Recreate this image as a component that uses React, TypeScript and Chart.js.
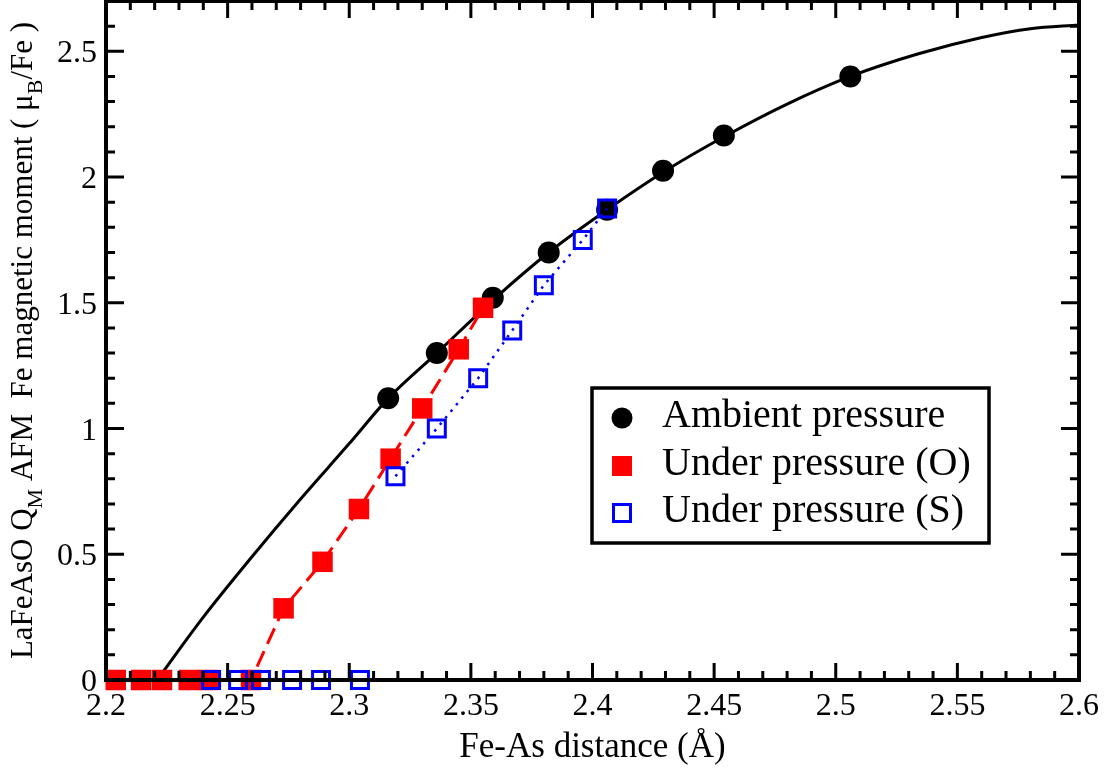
import React, { useEffect, useRef } from "react";
import { Chart, registerables } from "chart.js";

Chart.register(...registerables);

// Axis ranges and ticks
const X_MIN = 2.2;
const X_MAX = 2.6;
const Y_MIN = 0;
const Y_MAX = 2.7;
const X_MINOR_STEP = 0.01;
const Y_MINOR_STEP = 0.1;
const xTickValues = [2.2, 2.25, 2.3, 2.35, 2.4, 2.45, 2.5, 2.55, 2.6];
const xTickLabels = ["2.2", "2.25", "2.3", "2.35", "2.4", "2.45", "2.5", "2.55", "2.6"];
const yTickValues = [0, 0.5, 1, 1.5, 2, 2.5];
const yTickLabels = ["0", "0.5", "1", "1.5", "2", "2.5"];

// Ambient pressure: computed moments
const ambientX = [2.316, 2.336, 2.359, 2.382, 2.406, 2.429, 2.454, 2.506];
const ambientY = [1.12, 1.3, 1.52, 1.7, 1.87, 2.025, 2.165, 2.4];

// Ambient pressure: smooth fit curve
const fitX = [2.221, 2.24, 2.26, 2.28, 2.3, 2.316, 2.336, 2.359, 2.382, 2.406, 2.43, 2.455, 2.48, 2.506, 2.534, 2.56, 2.58, 2.6];
const fitY = [0, 0.25, 0.49, 0.72, 0.94, 1.12, 1.3, 1.51, 1.7, 1.87, 2.025, 2.165, 2.29, 2.4, 2.49, 2.555, 2.59, 2.605];

// Under pressure (O)
const orthoX = [2.204, 2.2144, 2.223, 2.234, 2.242, 2.2596, 2.273, 2.289, 2.304, 2.317, 2.33, 2.345, 2.355];
const orthoY = [0, 0, 0, 0, 0, 0, 0.285, 0.47, 0.68, 0.88, 1.08, 1.315, 1.48];

// Under pressure (S): non-magnetic points and magnetic branch
const sZeroX = [2.2432, 2.2543, 2.2637, 2.2765, 2.2884, 2.3044];
const sZeroY = [0, 0, 0, 0, 0, 0];
const sX = [2.319, 2.336, 2.353, 2.367, 2.38, 2.396, 2.406];
const sY = [0.81, 1.0, 1.2, 1.39, 1.57, 1.75, 1.875];

const legendLabels = ["Ambient pressure", "Under pressure (O)", "Under pressure (S)"];

const SERIF = "'Liberation Serif', 'Times New Roman', serif";
const RED = "#ff0000";
const BLUE = "#0000ff";

Chart.defaults.font.family = SERIF;

const pts = (xs: number[], ys: number[]) => xs.map((x, i) => ({ x, y: ys[i] }));

// Frame with inward ticks on all four sides, tick labels and titles
const framePlugin = {
  id: "frame",
  afterDatasetsDraw(chart: any) {
    const { ctx, chartArea: a, scales } = chart;
    const xs = scales.x;
    const ys = scales.y;
    ctx.save();
    ctx.strokeStyle = "#000";
    ctx.lineWidth = 3;
    ctx.lineCap = "butt";
    ctx.beginPath();
    const nx = Math.round((X_MAX - X_MIN) / X_MINOR_STEP);
    for (let i = 1; i < nx; i++) {
      const v = X_MIN + i * X_MINOR_STEP;
      const px = xs.getPixelForValue(v);
      const len = i % 5 === 0 ? 17 : 9;
      ctx.moveTo(px, a.bottom);
      ctx.lineTo(px, a.bottom - len);
      ctx.moveTo(px, a.top);
      ctx.lineTo(px, a.top + len);
    }
    const ny = Math.round((Y_MAX - Y_MIN) / Y_MINOR_STEP);
    for (let i = 1; i < ny; i++) {
      const v = Y_MIN + i * Y_MINOR_STEP;
      const py = ys.getPixelForValue(v);
      const len = i % 5 === 0 ? 18 : 9;
      ctx.moveTo(a.left, py);
      ctx.lineTo(a.left + len, py);
      ctx.moveTo(a.right, py);
      ctx.lineTo(a.right - len, py);
    }
    ctx.stroke();
    ctx.lineWidth = 4;
    ctx.strokeRect(a.left, a.top, a.right - a.left, a.bottom - a.top);
    ctx.restore();
  },
  afterDraw(chart: any) {
    const { ctx, chartArea: a, scales } = chart;
    const xs = scales.x;
    const ys = scales.y;
    ctx.save();
    ctx.fillStyle = "#000";

    // tick labels
    ctx.font = `32px ${SERIF}`;
    ctx.textBaseline = "alphabetic";
    ctx.textAlign = "center";
    xTickValues.forEach((v, i) => {
      ctx.fillText(xTickLabels[i], xs.getPixelForValue(v), a.bottom + 35);
    });
    ctx.textAlign = "right";
    yTickValues.forEach((v, i) => {
      ctx.fillText(yTickLabels[i], a.left - 9, ys.getPixelForValue(v) + 11);
    });

    // x-axis title
    ctx.font = `35px ${SERIF}`;
    ctx.textAlign = "center";
    ctx.fillText("Fe-As distance (Å)", (a.left + a.right) / 2, 757);

    // y-axis title with subscripts, rotated
    const mainFont = `31px ${SERIF}`;
    const subFont = `22px ${SERIF}`;
    const parts: [string, boolean][] = [
      ["LaFeAsO Q", false],
      ["M", true],
      [" AFM  Fe magnetic moment ( μ", false],
      ["B", true],
      ["/Fe )", false],
    ];
    let total = 0;
    for (const [t, sub] of parts) {
      ctx.font = sub ? subFont : mainFont;
      total += ctx.measureText(t).width;
    }
    ctx.translate(32, (a.top + a.bottom) / 2);
    ctx.rotate(-Math.PI / 2);
    ctx.textAlign = "left";
    let cx = -total / 2;
    for (const [t, sub] of parts) {
      ctx.font = sub ? subFont : mainFont;
      ctx.fillText(t, cx, sub ? 10 : 0);
      cx += ctx.measureText(t).width;
    }
    ctx.restore();

    // legend box
    ctx.save();
    const bx = 592, by = 388, bw = 397, bh = 155;
    ctx.fillStyle = "#fff";
    ctx.fillRect(bx, by, bw, bh);
    ctx.strokeStyle = "#000";
    ctx.lineWidth = 3.5;
    ctx.strokeRect(bx, by, bw, bh);
    const rowY = [418, 466, 513];
    const mx = 622;
    ctx.fillStyle = "#000";
    ctx.beginPath();
    ctx.arc(mx, rowY[0], 10.5, 0, Math.PI * 2);
    ctx.fill();
    ctx.fillStyle = RED;
    ctx.fillRect(mx - 10, rowY[1] - 10, 20, 20);
    ctx.strokeStyle = BLUE;
    ctx.lineWidth = 3;
    ctx.strokeRect(mx - 8.5, rowY[2] - 8.5, 17, 17);
    ctx.fillStyle = "#000";
    ctx.font = `40px ${SERIF}`;
    ctx.textAlign = "left";
    ctx.textBaseline = "alphabetic";
    legendLabels.forEach((t, i) => ctx.fillText(t, 662, rowY[i] + 9));
    ctx.restore();
  },
};

export default function App() {
  const canvasRef = useRef<HTMLCanvasElement | null>(null);

  useEffect(() => {
    const canvas = canvasRef.current;
    if (!canvas) return;
    const chart = new Chart(canvas, {
      type: "scatter",
      data: {
        datasets: [
          {
            label: "Under pressure (S)",
            data: pts(sX, sY),
            showLine: true,
            borderColor: BLUE,
            borderWidth: 2.5,
            borderDash: [2.5, 6],
            pointStyle: "rect",
            pointRadius: 12,
            pointBorderWidth: 3,
            pointBorderColor: BLUE,
            pointBackgroundColor: "rgba(0,0,0,0)",
            clip: false,
          } as any,
          {
            label: "Under pressure (S), zero moment",
            data: pts(sZeroX, sZeroY),
            showLine: false,
            pointStyle: "rect",
            pointRadius: 12,
            pointBorderWidth: 3,
            pointBorderColor: BLUE,
            pointBackgroundColor: "rgba(0,0,0,0)",
            clip: false,
          } as any,
          {
            label: "Under pressure (O)",
            data: pts(orthoX, orthoY),
            showLine: true,
            borderColor: RED,
            borderWidth: 3,
            borderDash: [17, 8],
            pointStyle: "rect",
            pointRadius: 14.5,
            pointBorderWidth: 0,
            pointBackgroundColor: RED,
            clip: false,
          } as any,
          {
            label: "Ambient pressure",
            data: pts(ambientX, ambientY),
            showLine: false,
            pointStyle: "circle",
            pointRadius: 11,
            pointBorderWidth: 0,
            pointBackgroundColor: "#000",
            clip: false,
          } as any,
          {
            label: "Ambient pressure fit",
            data: pts(fitX, fitY),
            showLine: true,
            borderColor: "#000",
            borderWidth: 3,
            pointRadius: 0,
            cubicInterpolationMode: "monotone",
            clip: false,
          } as any,
        ],
      },
      options: {
        responsive: false,
        animation: false,
        devicePixelRatio: 1,
        layout: { autoPadding: false, padding: { top: 1, right: 32, left: 0, bottom: 0 } },
        plugins: {
          legend: { display: false },
          tooltip: { enabled: false },
          title: { display: false },
        },
        scales: {
          x: {
            type: "linear",
            min: X_MIN,
            max: X_MAX,
            grid: { display: false },
            border: { display: false },
            ticks: { display: false },
            afterBuildTicks: (s: any) => {
              s.ticks = xTickValues.map((v) => ({ value: v }));
            },
            afterFit: (s: any) => {
              s.height = 91;
            },
          },
          y: {
            type: "linear",
            min: Y_MIN,
            max: Y_MAX,
            grid: { display: false },
            border: { display: false },
            ticks: { display: false },
            afterBuildTicks: (s: any) => {
              s.ticks = yTickValues.map((v) => ({ value: v }));
            },
            afterFit: (s: any) => {
              s.width = 106;
            },
          },
        },
      } as any,
      plugins: [framePlugin],
    });
    return () => chart.destroy();
  }, []);

  return (
    <div style={{ position: "fixed", left: 0, top: 0, width: 1111, height: 771, background: "#fff" }}>
      <canvas ref={canvasRef} width={1111} height={771} />
    </div>
  );
}
